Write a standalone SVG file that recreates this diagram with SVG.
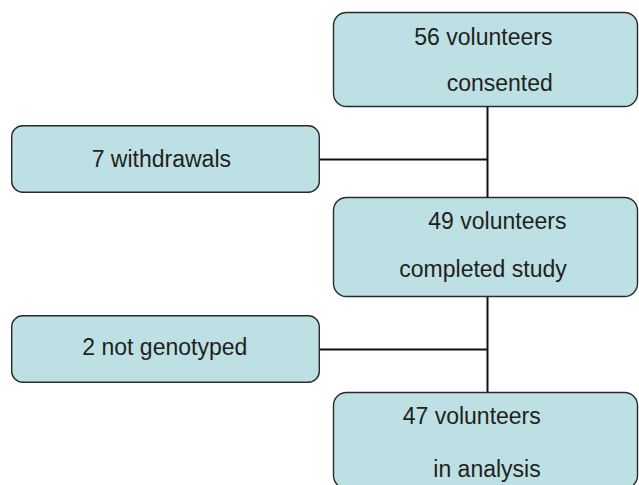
<svg xmlns="http://www.w3.org/2000/svg" width="639" height="485" viewBox="0 0 639 485">
<style>
.box{fill:#bde0e4;stroke:#2b2b2b;stroke-width:1.4}
.t{font-family:"Liberation Sans",Arial,sans-serif;font-size:23px;fill:#231f20}
.c{stroke:#111;stroke-width:2;fill:none}
</style>
<rect width="639" height="485" fill="#fff"/>
<g id="connectors">
<path class="c" d="M487.5 106V197.5M487.5 297V392.5M319.5 159.5H487.5M319.5 349.5H487.5"/>
</g>
<g id="n1">
<rect class="box" x="333.5" y="12.5" width="304" height="94" rx="13"/>
<text class="t" x="414.3" y="45">56 volunteers</text>
<text class="t" x="446.7" y="90.7">consented</text>
</g>
<g id="n2">
<rect class="box" x="11.7" y="125.7" width="307.6" height="66.6" rx="11"/>
<text class="t" x="91.7" y="167.3">7 withdrawals</text>
</g>
<g id="n3">
<rect class="box" x="333.5" y="197.5" width="304" height="99" rx="13"/>
<text class="t" x="428.3" y="229.3">49 volunteers</text>
<text class="t" x="399.3" y="277.3">completed study</text>
</g>
<g id="n4">
<rect class="box" x="11.7" y="315.7" width="307.6" height="66.6" rx="11"/>
<text class="t" x="82.3" y="355">2 not genotyped</text>
</g>
<g id="n5">
<rect class="box" x="333.5" y="392.5" width="304" height="96" rx="13"/>
<text class="t" x="402.7" y="424">47 volunteers</text>
<text class="t" x="433.3" y="477">in analysis</text>
</g>
</svg>
